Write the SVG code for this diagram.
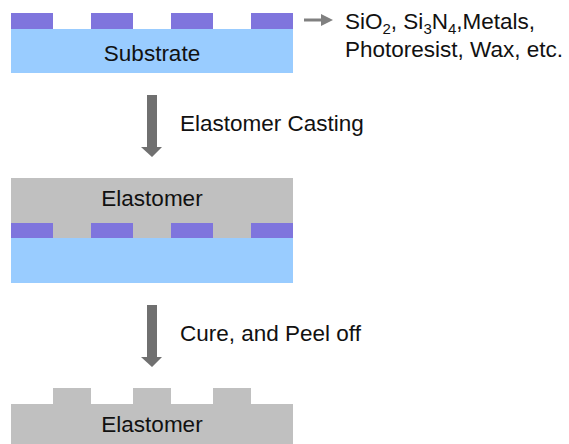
<svg xmlns="http://www.w3.org/2000/svg" width="569" height="444" viewBox="0 0 569 444">
  <style>
    .sub { fill: #99ccff; }
    .mask { fill: #7f75dd; }
    .elast { fill: #c0c0c0; }
    .lbl { font-family: "Liberation Sans", Arial, sans-serif; font-size: 22.5px; fill: #111; }
    .mid { text-anchor: middle; }
    .step { fill: #707070; }
    .small { font-size: 15px; }
  </style>
  <defs>
    <marker id="head" markerWidth="4" markerHeight="4" refX="2" refY="2" orient="auto" markerUnits="strokeWidth">
      <path d="M0,0 L4,2 L0,4 Z" fill="#808080"/>
    </marker>
  </defs>

  <!-- Stage 1: patterned substrate -->
  <g id="substrate1">
    <rect class="sub" x="11" y="29" width="282" height="44"/>
    <rect class="mask" x="11" y="13" width="42" height="16"/>
    <rect class="mask" x="91" y="13" width="42" height="16"/>
    <rect class="mask" x="171" y="13" width="42" height="16"/>
    <rect class="mask" x="251" y="13" width="42" height="16"/>
    <text class="lbl mid" x="152" y="61">Substrate</text>
  </g>

  <!-- Pattern material note -->
  <g id="materials">
    <text class="lbl" x="345" y="29">SiO<tspan class="small" dy="5">2</tspan><tspan dy="-5">, Si</tspan><tspan class="small" dy="5">3</tspan><tspan dy="-5">N</tspan><tspan class="small" dy="5">4</tspan><tspan dy="-5">,Metals,</tspan></text>
    <text class="lbl" x="345" y="57">Photoresist, Wax, etc.</text>
  </g>

  <!-- Stage 2: elastomer cast over the mold -->
  <g id="cast">
    <rect class="elast" x="11" y="178" width="282" height="60"/>
    <rect class="mask" x="11" y="223" width="42" height="15"/>
    <rect class="mask" x="91" y="223" width="42" height="15"/>
    <rect class="mask" x="171" y="223" width="42" height="15"/>
    <rect class="mask" x="251" y="223" width="42" height="15"/>
    <rect class="sub" x="11" y="238" width="282" height="45"/>
    <text class="lbl mid" x="152" y="206">Elastomer</text>
  </g>

  <!-- Stage 3: peeled elastomer replica -->
  <g id="replica">
    <path class="elast" d="M11,404 H53 V388 H91 V404 H133 V388 H171 V404 H213 V388 H251 V404 H293 V444 H11 Z"/>
    <text class="lbl mid" x="152" y="432">Elastomer</text>
  </g>

  <!-- Process arrows -->
  <g id="connectors">
    <line x1="304" y1="20" x2="327" y2="20" stroke="#808080" stroke-width="3" marker-end="url(#head)"/>
    <path class="step" d="M147,95 H157 V147 H162 L152,157 L141,147 H147 Z"/>
    <path class="step" d="M147,305 H157 V357 H162 L152,367 L141,357 H147 Z"/>
  </g>

  <g id="step-labels">
    <text class="lbl" x="180" y="131">Elastomer Casting</text>
    <text class="lbl" x="180" y="341">Cure, and Peel off</text>
  </g>
</svg>
